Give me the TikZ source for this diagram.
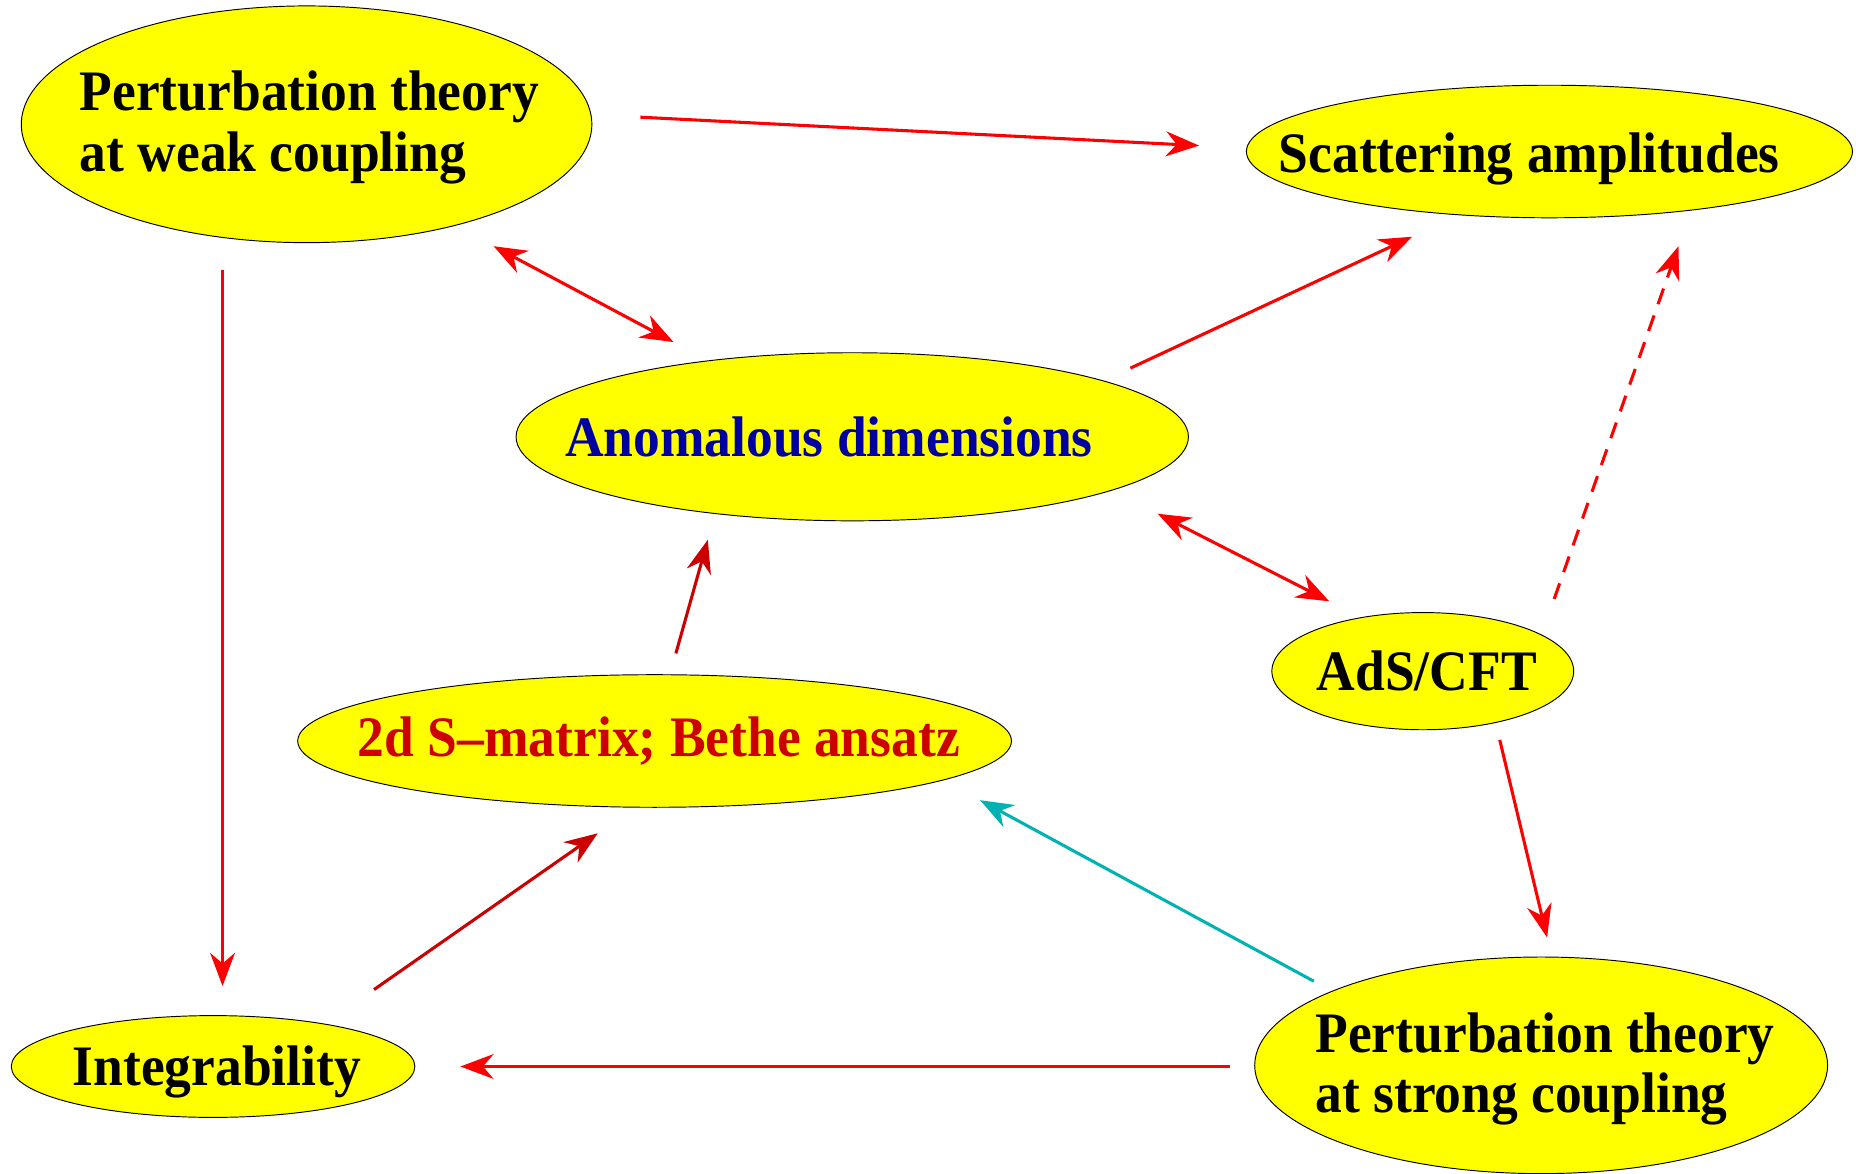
\documentclass[tikz,border=0pt]{standalone}
\usepackage{fontspec}
\setmainfont{Liberation Serif}
\usetikzlibrary{shapes.geometric,arrows.meta}
\definecolor{yel}{RGB}{255,255,0}
\definecolor{ared}{RGB}{255,0,0}
\definecolor{dred}{RGB}{204,0,0}
\definecolor{teal2}{RGB}{0,178,178}
\definecolor{dblue}{RGB}{0,0,160}
\newcommand{\tall}[1]{\scalebox{1}[1.07]{#1}}
\begin{document}
\begin{tikzpicture}[x=0.5pt,y=-0.5pt,
  ell/.style={ellipse, draw=black, line width=0.4pt, fill=yel, inner sep=0pt},
  lbl/.style={anchor=base west, inner sep=0pt, font=\fontsize{22.6}{27}\selectfont\bfseries},
  conn/.style={line width=1.3pt, draw=ared, -{Stealth[length=14pt,width=10.5pt,inset=4.5pt]}},
  bconn/.style={conn, {Stealth[length=14pt,width=10.5pt,inset=4.5pt]}-{Stealth[length=14pt,width=10.5pt,inset=4.5pt]}}]
\useasboundingbox (0,0) rectangle (1568,991);
% ellipses
\node[ell, minimum width=241pt, minimum height=100pt] (weak) at (259,105) {};
\node[ell, minimum width=256pt, minimum height=56pt] (scat) at (1309,128) {};
\node[ell, minimum width=284pt, minimum height=71pt] (anom) at (720,369) {};
\node[ell, minimum width=127.5pt, minimum height=49.5pt] (ads) at (1202,567) {};
\node[ell, minimum width=301.5pt, minimum height=56pt] (smat) at (553,626) {};
\node[ell, minimum width=170.5pt, minimum height=43pt] (integ) at (180,901) {};
\node[ell, minimum width=242pt, minimum height=91.5pt] (strong) at (1302,900) {};
% texts
\node[lbl] (weak-t1) at (67,93) {\tall{Perturbation theory}};
\node[lbl] (weak-t2) at (67,145) {\tall{at weak coupling}};
\node[lbl] (scat-t) at (1080,146) {\tall{Scattering amplitudes}};
\node[lbl, text=dblue] (anom-t) at (477,386) {\tall{Anomalous dimensions}};
\node[lbl] (ads-t) at (1112,583) {\tall{AdS/CFT}};
\node[lbl, text=dred] (smat-t) at (302,639) {\tall{2d S–matrix; Bethe ansatz}};
\node[lbl] (integ-t) at (61,917) {\tall{Integrability}};
\node[lbl] (strong-t1) at (1111,889) {\tall{Perturbation theory}};
\node[lbl] (strong-t2) at (1111,940) {\tall{at strong coupling}};
% connector end points
\coordinate (c1a) at (541,99);   \coordinate (c1b) at (1013,123);
\coordinate (c2a) at (417,208);  \coordinate (c2b) at (569,289);
\coordinate (c3a) at (188,228);  \coordinate (c3b) at (188,833);
\coordinate (c4a) at (955,311);  \coordinate (c4b) at (1193,200);
\coordinate (c5a) at (1313,506); \coordinate (c5b) at (1418,208);
\coordinate (c6a) at (978,434);  \coordinate (c6b) at (1123,508);
\coordinate (c7a) at (571,552);  \coordinate (c7b) at (598,456);
\coordinate (c8a) at (1267,625); \coordinate (c8b) at (1307,792);
\coordinate (c9a) at (1110,829); \coordinate (c9b) at (828,676);
\coordinate (c10a) at (1039,901); \coordinate (c10b) at (389,901);
\coordinate (c11a) at (316,836); \coordinate (c11b) at (505,704);
% connectors
\draw[conn] (c1a) -- (c1b);
\draw[bconn] (c2a) -- (c2b);
\draw[conn] (c3a) -- (c3b);
\draw[conn] (c4a) -- (c4b);
\draw[conn, dash pattern=on 7pt off 5pt] (c5a) -- (c5b);
\draw[bconn] (c6a) -- (c6b);
\draw[conn, draw=dred, fill=dred] (c7a) -- (c7b);
\draw[conn] (c8a) -- (c8b);
\draw[conn, draw=teal2, fill=teal2] (c9a) -- (c9b);
\draw[conn] (c10a) -- (c10b);
\draw[conn, draw=dred, fill=dred] (c11a) -- (c11b);
\end{tikzpicture}
\end{document}
